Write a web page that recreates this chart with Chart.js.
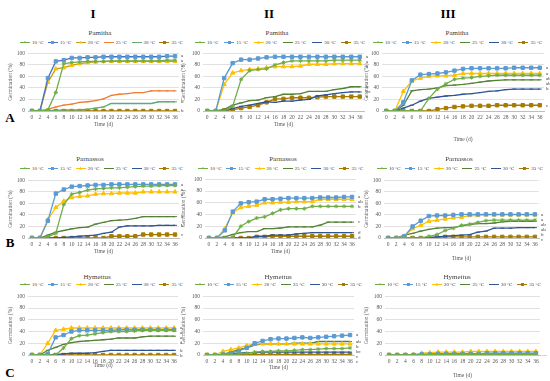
<!DOCTYPE html>
<html><head><meta charset="utf-8">
<script src="https://cdn.jsdelivr.net/npm/chart.js@4.4.1/dist/chart.umd.min.js"></script>
<style>
body{margin:0;width:550px;height:381px;background:#fff;position:relative;overflow:hidden;font-family:"Liberation Serif",serif;}
canvas{position:absolute;}
.hdr{position:absolute;font-weight:bold;font-size:13px;color:#000;transform:translate(-50%,-50%);line-height:1}
.ttl{position:absolute;font-size:7px;color:#404040;transform:translate(-50%,-50%);white-space:nowrap;line-height:1}
.leg{position:absolute;display:flex;justify-content:space-between;align-items:center;font-size:5px;color:#404040;transform:translateY(-50%);height:6px;line-height:1}
.item{display:flex;align-items:center;white-space:nowrap}
.icon{position:relative;width:10px;height:4px;margin-right:2px}
.icon .ln{position:absolute;left:0;right:0;top:1.5px;height:1px}
.icon .mk{position:absolute;left:3.5px;top:0.5px;width:3px;height:3px}
</style>
</head><body>
<script>
// ---------- DATA ----------
const days = ['0','2','4','6','8','10','12','14','16','18','20','22','24','26','28','30','32','34','36'];
const seriesLabels = ['10 °C','15 °C','20 °C','25 °C','30 °C','35 °C'];
const columnLabels = ['I','II','III'];
const rowLabels = ['A','B','C'];
const populations = ['Pamitha','Parnassos','Hymettus'];
const yTicks = [0,20,40,60,80,100];

const pamithaI = [
  [0,0,2,32,82,84,85,86,86,86,87,87,87,87,87,87,87,88,88],
  [0,0,57,86,88,92,92,93,93,94,94,94,94,94,94,94,94,95,95],
  [0,0,50,73,75,79,82,84,85,86,86,86,86,86,86,86,86,86,86],
  [0,0,3,7,10,12,15,16,18,21,27,29,30,32,32,35,35,35,35],
  [0,0,1,1,2,2,2,3,5,7,13,13,13,13,13,13,16,16,16],
  [0,0,0,0,0,0,0,0,0,0,0,0,0,0,0,0,0,0,0]
];
const pamithaII = [
  [0,0,0,8,55,70,72,73,80,84,87,87,87,87,87,88,88,88,88],
  [0,0,57,83,89,89,91,93,94,94,94,94,94,94,94,94,94,94,94],
  [0,0,46,66,70,72,73,75,77,77,77,78,81,81,81,82,82,82,82],
  [0,0,3,10,14,18,19,23,25,29,29,30,34,34,34,37,39,42,42],
  [0,0,1,4,8,10,13,16,15,17,17,19,20,26,28,30,32,33,33],
  [0,0,1,2,5,7,10,15,21,21,23,23,23,24,25,25,25,25,25]
];
const pamithaIII = [
  [0,0,0,0,0,22,38,47,55,57,58,60,61,62,62,62,62,62,62],
  [0,0,15,53,63,64,65,67,70,73,74,74,74,74,74,75,75,75,75],
  [0,0,34,52,57,60,61,61,62,65,65,65,65,65,65,65,65,65,65],
  [0,0,10,35,37,38,40,44,45,46,48,50,52,53,54,54,54,54,54],
  [0,0,5,10,17,22,24,26,27,29,30,32,34,35,37,38,38,38,38],
  [0,0,0,0,0,0,3,5,7,8,9,9,9,10,10,10,10,10,10]
];
const parnassosI = [
  [0,0,2,8,58,76,79,83,85,86,87,87,88,89,90,90,91,91,91],
  [0,0,30,77,84,89,90,91,92,92,93,93,93,93,93,93,93,93,93],
  [0,0,32,53,64,70,72,73,76,77,77,78,78,78,80,80,80,80,80],
  [0,0,5,10,13,16,18,19,24,27,30,31,32,34,37,37,37,37,37],
  [0,0,0,0,1,2,3,4,5,8,10,19,21,21,21,21,22,22,22],
  [0,0,0,0,0,0,0,0,0,0,3,3,3,3,6,6,6,6,6]
];
const parnassosII = [
  [0,0,0,1,20,28,34,36,42,48,50,50,50,54,54,54,54,54,54],
  [0,0,13,45,59,61,62,66,66,67,68,68,68,68,69,69,69,70,70],
  [0,0,16,43,52,54,56,60,60,61,61,62,62,62,66,66,66,66,66],
  [0,0,2,6,9,11,11,16,16,17,19,19,19,19,22,27,27,27,27],
  [0,0,0,0,0,0,3,3,5,5,5,7,8,9,9,9,9,9,9],
  [0,0,0,0,0,0,2,2,3,3,3,3,3,3,3,3,3,3,3]
];
const parnassosIII = [
  [0,0,0,0,0,3,6,13,17,22,24,27,30,31,31,31,31,31,31],
  [0,0,3,20,30,38,39,39,40,41,41,41,41,41,41,41,41,41,41],
  [0,0,3,16,22,29,31,33,35,36,39,39,40,40,40,40,40,40,40],
  [0,0,5,8,12,15,17,18,18,21,23,25,25,26,28,29,29,29,29],
  [0,0,0,0,0,1,2,3,4,5,6,10,12,17,17,17,18,18,18],
  [0,0,0,0,0,0,1,2,2,2,2,2,2,2,2,2,2,2,2]
];
const hymettusI = [
  [0,0,0,0,12,28,33,34,36,38,40,40,40,41,42,42,42,42,42],
  [0,0,2,30,34,40,42,42,42,42,42,43,43,43,43,43,43,43,43],
  [0,0,20,42,44,46,46,46,46,46,46,46,46,46,46,46,46,46,46],
  [0,0,8,13,18,21,23,24,25,26,27,29,29,29,31,32,32,32,32],
  [0,0,0,1,2,3,3,3,4,6,8,8,8,8,8,8,8,8,8],
  [0,0,0,0,0,0,0,0,0,0,0,0,0,0,0,0,0,0,0]
];
const hymettusII = [
  [0,0,0,1,2,3,5,6,6,7,7,8,9,9,10,11,11,11,12],
  [0,0,1,3,7,12,20,24,27,28,28,29,30,29,30,31,32,33,34],
  [0,0,6,9,12,16,19,19,19,19,19,19,19,19,19,19,19,19,19],
  [0,0,1,5,9,12,17,19,19,19,19,20,20,20,23,23,23,23,23],
  [0,0,0,2,3,4,4,5,5,5,5,5,5,5,5,5,5,5,5],
  [0,0,0,0,0,1,1,1,1,1,1,1,1,1,1,1,1,1,1]
];
const hymettusIII = [
  [0,0,0,0,0,1,1,1,1,1,1,1,1,1,1,1,1,1,1],
  [0,0,0,0,1,1,2,2,2,2,2,2,3,3,3,3,3,3,3],
  [0,0,0,1,3,4,5,5,5,5,6,6,6,6,6,6,6,6,6],
  [0,0,0,0,0,1,1,1,1,1,1,1,1,1,1,1,1,1,1],
  [0,0,0,0,1,1,2,2,2,2,2,2,2,2,2,2,2,2,2],
  [0,0,0,0,0,0,0,0,0,0,0,0,0,0,0,0,0,0,0]
];

const lettersPamithaI = ['a','a','a','b','b','b'];
const lettersPamithaII = ['a','a','a','b','bc','c'];
const lettersPamithaIII = ['ab','a','a','ab','b','c'];
const lettersParnassosI = ['a','a','a','b','b','c'];
const lettersParnassosII = ['b','a','ab','c','d','d'];
const lettersParnassosIII = ['ab','a','a','ab','b','c'];
const lettersHymettusI = ['a','a','a','a','b','b'];
const lettersHymettusII = ['bc','a','b','ab','c','c'];
const lettersHymettusIII = ['','','','','','—'];

// ---------- STYLES ----------
const FONT = '"Liberation Serif", serif';
const TXT = '#595959';
const baseStyles = [
  {line:'#70AD47', fill:'#70AD47', point:'star', r:2},
  {line:'#5B9BD5', fill:'#5B9BD5', point:'rect', r:2.4},
  {line:'#FFC000', fill:'#FFC000', point:'triangle', r:2.4},
  {line:'#548235', fill:'#548235', point:'line', r:2},
  {line:'#2F5597', fill:'#2F5597', point:'line', r:2},
  {line:'#A67C00', fill:'#A67C00', point:'rect', r:2.4}
];
const styleAI = [
  {line:'#70AD47', fill:'#70AD47', point:'star', r:2},
  {line:'#4472C4', fill:'#5B9BD5', point:'rect', r:2.4},
  {line:'#C59A14', fill:'#FFC000', point:'triangle', r:2.4},
  {line:'#ED7D31', fill:'#ED7D31', point:'line', r:1.5},
  {line:'#5DAA7F', fill:'#70AD47', point:'line', r:2},
  {line:'#9E7A00', fill:'#A67C00', point:'rect', r:2.4}
];

// layout geometry of panels (page coordinates)
const colGeom = [
  {L:7,   R:187, title:[100,90,97]},
  {L:180, R:372, title:[277,283,278]},
  {L:363, R:550, title:[457,459,457]}
];
const panels = [
  {data:pamithaI,   letters:lettersPamithaI,   r:0,c:0, aL:28, aR:179, aT:51, aB:111, B:129, styles:styleAI, leg:[20,183]},
  {data:pamithaII,  letters:lettersPamithaII,  r:0,c:1, aL:203,aR:364, aT:51, aB:111, B:129, styles:baseStyles, leg:[195,365]},
  {data:pamithaIII, letters:lettersPamithaIII, r:0,c:2, aL:382,aR:544, aT:51, aB:111, B:144, styles:baseStyles, leg:[373,542]},
  {data:parnassosI, letters:lettersParnassosI, r:1,c:0, aL:28, aR:179, aT:178,aB:238, B:256, styles:baseStyles, leg:[20,183]},
  {data:parnassosII,letters:lettersParnassosII,r:1,c:1, aL:205,aR:356, aT:177,aB:238, B:256, styles:baseStyles, leg:[198,363]},
  {data:parnassosIII,letters:lettersParnassosIII,r:1,c:2,aL:384,aR:539, aT:178,aB:238, B:263, styles:baseStyles, leg:[377,543]},
  {data:hymettusI,  letters:lettersHymettusI,  r:2,c:0, aL:28, aR:178, aT:294,aB:355, B:370, styles:baseStyles, leg:[20,183]},
  {data:hymettusII, letters:lettersHymettusII, r:2,c:1, aL:203,aR:354, aT:294,aB:355, B:372, styles:baseStyles, leg:[195,362]},
  {data:hymettusIII,letters:lettersHymettusIII,r:2,c:2, aL:385,aR:540, aT:294,aB:355, B:380, styles:baseStyles, leg:[375,541]}
];
const rowText = [{title:33, legend:42, label:117},{title:159, legend:168, label:242},{title:277, legend:284, label:372}];
const colHeaderX = [93,269,448];

function addDiv(cls, html, css){
  const d=document.createElement('div'); d.className=cls; d.innerHTML=html;
  Object.assign(d.style, css); document.body.appendChild(d); return d;
}
columnLabels.forEach((t,i)=>addDiv('hdr',t,{left:colHeaderX[i]+'px',top:'13px'}));
rowLabels.forEach((t,i)=>addDiv('hdr',t,{left:'10px',top:rowText[i].label+'px'}));

function markerCss(s){
  if(s.point==='rect') return `background:${s.fill};`;
  if(s.point==='triangle') return `background:${s.fill};clip-path:polygon(50% 0,100% 100%,0 100%);`;
  if(s.point==='line') return `background:${s.fill};height:1px;top:1.5px;`;
  return `background:${s.fill};clip-path:polygon(50% 0,62% 38%,100% 50%,62% 62%,50% 100%,38% 62%,0 50%,38% 38%);`;
}

const letterPlugin = {
  id:'letters',
  afterDatasetsDraw(chart, args, opts){
    const ys = chart.scales.y, ctx = chart.ctx;
    const items = [];
    chart.data.datasets.forEach((ds,i)=>{
      const t = opts.letters[i]; if(!t) return;
      items.push({t, y: ys.getPixelForValue(ds.data[ds.data.length-1])});
    });
    items.sort((a,b)=>a.y-b.y);
    for(let i=1;i<items.length;i++){ if(items[i].y < items[i-1].y+5) items[i].y = items[i-1].y+5; }
    ctx.save();
    ctx.font = '5px '+FONT; ctx.fillStyle = '#404040'; ctx.textBaseline='middle'; ctx.textAlign='left';
    items.forEach(it=>ctx.fillText(it.t, chart.chartArea.right+2, it.y));
    ctx.restore();
  }
};

panels.forEach(p=>{
  const g = colGeom[p.c];
  const T = p.aT - 4;
  const L = g.L, R = g.R, B = p.B;
  // title & legend (HTML)
  addDiv('ttl', populations[p.r], {left:g.title[p.r]+'px', top:rowText[p.r].title+'px'});
  const leg = addDiv('leg','',{left:p.leg[0]+'px', width:(p.leg[1]-p.leg[0])+'px', top:rowText[p.r].legend+'px'});
  seriesLabels.forEach((lab,i)=>{
    const s = p.styles[i];
    const it = document.createElement('div'); it.className='item';
    it.innerHTML = `<span class="icon"><span class="ln" style="background:${s.line}"></span><span class="mk" style="${markerCss(s)}"></span></span>${lab}`;
    leg.appendChild(it);
  });
  const cv = document.createElement('canvas');
  cv.width = R-L; cv.height = B-T;
  cv.style.left = L+'px'; cv.style.top = T+'px';
  document.body.appendChild(cv);
  const datasets = p.data.map((vals,i)=>{
    const s = p.styles[i];
    return {label:seriesLabels[i], data:vals, borderColor:s.line, backgroundColor:s.fill,
      borderWidth:1.3, pointStyle:s.point, pointRadius:s.r, pointBorderColor:s.fill,
      pointBackgroundColor:s.fill, pointBorderWidth:1, tension:0, fill:false};
  });
  new Chart(cv, {
    type:'line',
    data:{labels:days, datasets},
    plugins:[letterPlugin],
    options:{
      responsive:false, animation:false, devicePixelRatio:1,
      layout:{padding:{left:0, top:p.aT-T, right:R-p.aR, bottom:0}},
      plugins:{legend:{display:false}, title:{display:false}, tooltip:{enabled:false}, letters:{letters:p.letters}},
      scales:{
        x:{type:'category', offset:true,
          grid:{display:false, drawTicks:false}, border:{color:'#bfbfbf', width:1},
          ticks:{font:{family:FONT,size:5.5}, color:TXT, padding:3, maxRotation:0, minRotation:0, autoSkip:false},
          title:{display:true, text:'Time (d)', font:{family:FONT,size:5.5}, color:TXT, padding:{top:0,bottom:1}},
          afterFit:s=>{s.height = B - p.aB;}
        },
        y:{min:0, max:100,
          afterBuildTicks:s=>{s.ticks = yTicks.map(v=>({value:v}));},
          grid:{color:'#d9d9d9', drawTicks:false, lineWidth:0.8}, border:{display:false},
          ticks:{font:{family:FONT,size:5.5}, color:TXT, padding:3},
          title:{display:true, text:'Germination (%)', font:{family:FONT,size:5.5}, color:TXT, padding:0},
          afterFit:s=>{s.width = p.aL - L;}
        }
      }
    }
  });
});
</script>
</body></html>
